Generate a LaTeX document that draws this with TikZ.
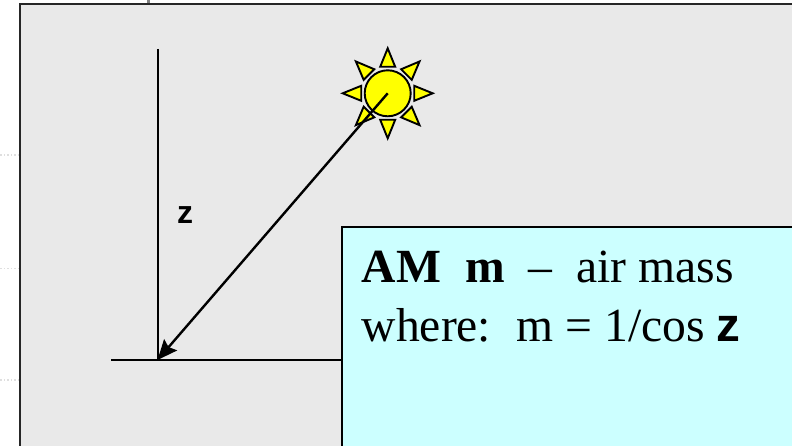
\documentclass[tikz,border=0pt]{standalone}
\usetikzlibrary{arrows.meta}
\usepackage{fontspec}
\setmainfont{Liberation Serif}
\setsansfont{Liberation Sans}
\definecolor{panelgray}{HTML}{E9E9E9}
\definecolor{boxcyan}{HTML}{CCFFFF}
\definecolor{sunyellow}{HTML}{FFFF00}
\tikzset{
  boxtext/.style={anchor=base west, inner sep=0pt, font=\fontsize{47.6}{56}\selectfont},
  ray/.style={draw=black, fill=sunyellow, line width=1.9pt, line join=miter},
}
\begin{document}
\begin{tikzpicture}[x=1pt, y=-1pt]
  \useasboundingbox (0,0) rectangle (792,446);
  \clip (0,0) rectangle (792,446);

  \draw[gray!25, line width=1.5pt, dotted] (0,155) -- (18,155);
  \draw[gray!25, line width=1.5pt, dotted] (0,268.5) -- (18,268.5);
  \draw[gray!25, line width=1.5pt, dotted] (0,380) -- (18,380);
  \draw[gray, line width=3pt] (148.5,0) -- (148.5,4);
  \draw[draw=black!85, fill=panelgray, line width=2pt] (19.5,4.5) rectangle (810,460);

  \coordinate (S) at (387.7,93.3);
  \coordinate (F) at (157.5,360);
  \coordinate (T) at (157.5,49);
  \coordinate (L) at (111,360);
  \coordinate (R) at (342,360);

  \foreach \a in {0,45,...,315}
    \draw[ray, rotate around={\a:(S)}] ([shift={(-7.5,-26.5)}]S) -- ([shift={(0,-45)}]S) -- ([shift={(7.5,-26.5)}]S) -- cycle;
  \draw[draw=black, fill=sunyellow, line width=1.9pt] (S) circle (23);

  \draw[line width=2pt] (T) -- (F);
  \draw[line width=2pt] (L) -- (R);
  \draw[-{Stealth[length=20pt,width=17pt,inset=3pt]}, line width=2.4pt] (S) -- (F);
  \node[inner sep=0pt, anchor=base] (zlabel) at (185,224) {\sffamily\bfseries\fontsize{32}{36}\selectfont z};

  \draw[draw=black, fill=boxcyan, line width=2pt] (341.5,227) rectangle (810,460);
  \node[boxtext] (title) at (361.5,283) {\textbf{AM\hspace{25pt}m}\hspace{23pt}–\hspace{24pt}air mass};
  \node[boxtext] (formula) at (361.5,341) {where:\hspace{9.5pt} m = 1/cos {\sffamily\bfseries z}};
\end{tikzpicture}
\end{document}
